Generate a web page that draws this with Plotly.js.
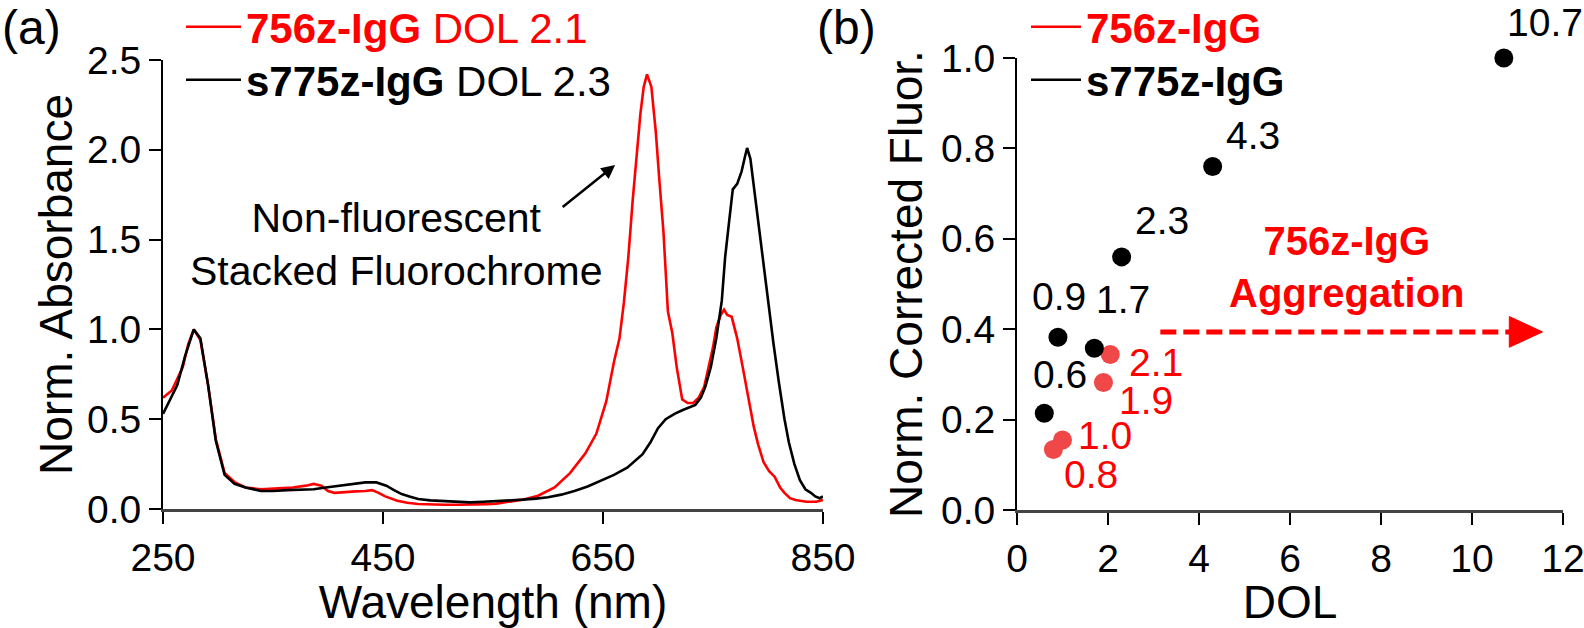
<!DOCTYPE html>
<html>
<head>
<meta charset="utf-8">
<script src="https://cdn.plot.ly/plotly-3.0.1.min.js"></script>
<style>html,body{margin:0;padding:0;background:#fff;}#chart{width:1584px;height:628px;}</style>
</head>
<body>
<div id="chart"></div>
<script>
// ---------- Panel (a): absorbance spectra ----------
const redWavelength = [250,258,268,273,278,284,291,298,306,315,325,339,355,368,380,387,394,400,406,415,425,434,440,446,452,463,472,482,495,506,520,530,545,553,565,577,591,606,620,634,644,653,660,665,669,673,677,681,684,687,690,694,698,701,705,709,713,717,722,727,732,737,742,746,750,753,757,760,763,767,772,777,782,787,791,796,801,806,811,815,820,825,835,844,850];
const redAbsorbance = [0.62,0.66,0.79,0.92,1.0,0.94,0.69,0.39,0.20,0.15,0.12,0.11,0.115,0.12,0.13,0.14,0.13,0.10,0.09,0.095,0.098,0.10,0.105,0.09,0.07,0.046,0.035,0.028,0.025,0.024,0.024,0.024,0.027,0.03,0.04,0.052,0.074,0.12,0.20,0.31,0.42,0.60,0.82,0.95,1.15,1.40,1.72,2.0,2.2,2.35,2.42,2.35,2.10,1.85,1.54,1.10,0.98,0.79,0.61,0.59,0.59,0.62,0.68,0.79,0.90,1.01,1.08,1.11,1.08,1.07,0.95,0.79,0.62,0.46,0.36,0.26,0.21,0.18,0.12,0.09,0.06,0.05,0.04,0.04,0.05];

const blackWavelength = [250,256,263,270,278,284,291,298,306,315,325,339,350,363,375,387,398,410,422,434,444,453,460,467,474,482,493,505,517,529,541,553,565,577,589,600,612,624,636,648,660,672,679,686,693,700,707,715,722,729,734,739,743,748,753,758,761,765,768,772,776,779,781,784,788,792,796,800,805,810,815,819,824,829,834,839,843,847,850];
const blackAbsorbance = [0.53,0.60,0.69,0.85,1.0,0.95,0.69,0.38,0.19,0.14,0.12,0.10,0.10,0.105,0.108,0.11,0.12,0.13,0.14,0.148,0.148,0.13,0.105,0.083,0.07,0.056,0.048,0.043,0.04,0.037,0.04,0.043,0.047,0.052,0.058,0.065,0.08,0.10,0.125,0.157,0.19,0.23,0.27,0.305,0.37,0.45,0.50,0.53,0.55,0.565,0.58,0.62,0.68,0.79,0.95,1.16,1.40,1.62,1.78,1.81,1.88,1.96,2.01,1.95,1.75,1.55,1.35,1.16,0.92,0.70,0.50,0.37,0.25,0.16,0.11,0.09,0.07,0.06,0.07];

const absTickVals = [0,0.5,1.0,1.5,2.0,2.5];
const absTickText = ['0.0','0.5','1.0','1.5','2.0','2.5'];
const wlTickVals = [250,450,650,850];
const wlTickText = ['250','450','650','850'];

// ---------- Panel (b): fluorescence vs DOL ----------
const blackDOL = [0.6,0.9,1.7,2.3,4.3,10.7];
const blackFluor = [0.214,0.382,0.358,0.56,0.76,1.0];
const blackLabels = ['0.6','0.9','1.7','2.3','4.3','10.7'];
const redDOL = [0.8,1.0,1.9,2.05];
const redFluor = [0.134,0.155,0.282,0.344];
const redLabels = ['0.8','1.0','1.9','2.1'];
const fluorTickVals = [0,0.2,0.4,0.6,0.8,1.0];
const fluorTickText = ['0.0','0.2','0.4','0.6','0.8','1.0'];
const dolTickVals = [0,2,4,6,8,10,12];
const dolTickText = ['0','2','4','6','8','10','12'];

// label offsets (px) for point labels
const blackOffsets = [[16,39],[1,41],[29,49],[40,36],[40,31],[41,35]];
const redOffsets = [[38,-25],[42,4],[43,-18],[46,-8]];

const FONT = 'Liberation Sans, Arial, sans-serif';
const RED = '#ff0000';
const PTRED = 'rgb(240,72,72)';

const traces = [
  {x: redWavelength, y: redAbsorbance, type:'scatter', mode:'lines', xaxis:'x', yaxis:'y',
   name:'<span style="color:#ff0000"><b>756z-IgG</b> DOL 2.1</span>', line:{color:RED, width:2.6}, legend:'legend'},
  {x: blackWavelength, y: blackAbsorbance, type:'scatter', mode:'lines', xaxis:'x', yaxis:'y',
   name:'<b>s775z-IgG</b> DOL 2.3', line:{color:'#000', width:2.6}, legend:'legend3'},
  {x: redDOL, y: redFluor, type:'scatter', mode:'markers', xaxis:'x2', yaxis:'y2', showlegend:false,
   marker:{color:PTRED, size:19}, cliponaxis:false},
  {x: blackDOL, y: blackFluor, type:'scatter', mode:'markers', xaxis:'x2', yaxis:'y2', showlegend:false,
   marker:{color:'#000', size:19}, cliponaxis:false},
  {x:[null], y:[null], type:'scatter', mode:'lines', xaxis:'x2', yaxis:'y2', name:'<span style="color:#ff0000"><b>756z-IgG</b></span>',
   line:{color:RED, width:2.6}, legend:'legend2'},
  {x:[null], y:[null], type:'scatter', mode:'lines', xaxis:'x2', yaxis:'y2', name:'<b>s775z-IgG</b>',
   line:{color:'#000', width:2.6}, legend:'legend4'}
];

const annotations = [];
blackDOL.forEach((d,i)=>annotations.push({x:d, y:blackFluor[i], xref:'x2', yref:'y2', text:blackLabels[i],
  showarrow:false, xshift:blackOffsets[i][0], yshift:blackOffsets[i][1], font:{size:39, color:'#000', family:FONT}}));
redDOL.forEach((d,i)=>annotations.push({x:d, y:redFluor[i], xref:'x2', yref:'y2', text:redLabels[i],
  showarrow:false, xshift:redOffsets[i][0], yshift:redOffsets[i][1], font:{size:39, color:RED, family:FONT}}));

annotations.push(
  {xref:'paper', yref:'paper', x:31/1584, y:1-28/628, xanchor:'center', yanchor:'middle', text:'(a)', showarrow:false, font:{size:48, family:FONT, color:'#000'}},
  {xref:'paper', yref:'paper', x:846/1584, y:1-28/628, xanchor:'center', yanchor:'middle', text:'(b)', showarrow:false, font:{size:48, family:FONT, color:'#000'}},
  {xref:'x', yref:'y', x:462, y:1.47, xanchor:'center', yanchor:'middle', text:'Non-fluorescent<br>Stacked Fluorochrome', showarrow:false,
   font:{size:41, family:FONT, color:'#000'}, align:'center'},
  {xref:'x', yref:'y', x:661, y:1.915, axref:'x', ayref:'y', ax:612, ay:1.675, text:'', showarrow:true,
   arrowhead:2, arrowsize:1.1, arrowwidth:2.5, arrowcolor:'#000'},
  {xref:'x2', yref:'y2', x:7.25, y:0.538, xanchor:'center', yanchor:'middle', text:'<b>756z-IgG</b><br><b>Aggregation</b>', showarrow:false,
   font:{size:40, family:FONT, color:RED}, align:'center'}
);

const shapes = [
  {type:'line', xref:'x2', yref:'y2', x0:3.15, x1:10.9, y0:0.394, y1:0.394, line:{color:RED, width:5, dash:'16px,7px'}},
  {type:'path', xref:'x2', yref:'y2', path:'M 10.82 0.36 L 11.55 0.394 L 10.82 0.428 Z', fillcolor:RED, line:{color:RED, width:1}}
];

const axisBase = {showline:true, linecolor:'#000', linewidth:2, ticks:'outside', ticklen:12, tickwidth:2, tickcolor:'#000',
  showgrid:false, zeroline:false, tickfont:{size:39, family:FONT, color:'#000'}, fixedrange:true, ticklabeloverflow:'allow', automargin:false};

const legendBase = {xanchor:'left', yanchor:'middle', bgcolor:'rgba(0,0,0,0)', font:{size:42, family:FONT, color:'#000'},
  itemclick:false, itemdoubleclick:false, borderwidth:0};

const layout = {
  width:1584, height:628,
  margin:{l:0, r:0, t:0, b:0, autoexpand:false},
  paper_bgcolor:'#fff', plot_bgcolor:'rgba(0,0,0,0)',
  font:{family:FONT, color:'#000'},
  xaxis: Object.assign({}, axisBase, {domain:[163/1584, 823/1584], range:[250,850], tickvals:wlTickVals, ticktext:wlTickText,
    linecolor:'#444', linewidth:3, anchor:'y',
    title:{text:'Wavelength (nm)', font:{size:46, family:FONT, color:'#000'}, standoff:10}}),
  yaxis: Object.assign({}, axisBase, {domain:[119/628, 568/628], range:[0,2.5], tickvals:absTickVals, ticktext:absTickText, anchor:'x',
    title:{text:'Norm. Absorbance', font:{size:46, family:FONT, color:'#000'}, standoff:0}}),
  xaxis2: Object.assign({}, axisBase, {domain:[1017/1584, 1563/1584], range:[0,12], tickvals:dolTickVals, ticktext:dolTickText,
    linecolor:'#444', linewidth:3, anchor:'y2',
    title:{text:'DOL', font:{size:46, family:FONT, color:'#000'}, standoff:4}}),
  yaxis2: Object.assign({}, axisBase, {domain:[118/628, 570/628], range:[0,1.0], tickvals:fluorTickVals, ticktext:fluorTickText, anchor:'x2',
    title:{text:'Norm. Corrected Fluor.', font:{size:46, family:FONT, color:'#000'}, standoff:4}}),
  legend: Object.assign({}, legendBase, {x:181/1584, y:1-27/628, itemwidth:55}),
  legend3: Object.assign({}, legendBase, {x:181/1584, y:1-80/628, itemwidth:55}),
  legend2: Object.assign({}, legendBase, {x:1026/1584, y:1-27/628, itemwidth:50}),
  legend4: Object.assign({}, legendBase, {x:1026/1584, y:1-80/628, itemwidth:50}),
  annotations: annotations,
  shapes: shapes,
  showlegend:true
};

Plotly.newPlot('chart', traces, layout, {staticPlot:true, displayModeBar:false});
</script>
</body>
</html>
